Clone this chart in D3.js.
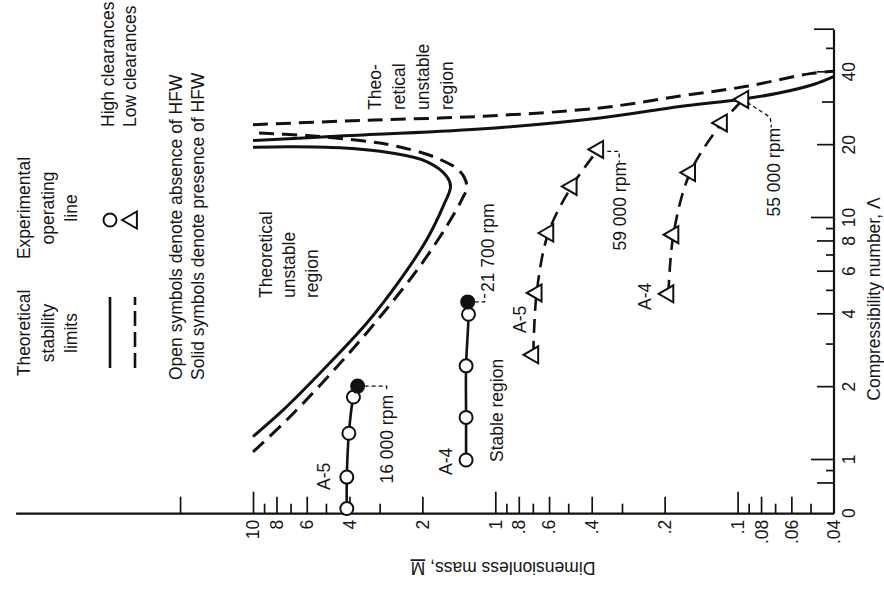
<!DOCTYPE html>
<html>
<head>
<meta charset="utf-8">
<script src="https://cdn.jsdelivr.net/npm/d3@7"></script>
<style>
  body { margin: 0; background: #fff; }
  svg { display: block; font-family: "Liberation Sans", Arial, sans-serif; }
  text { fill: #161616; font-size: 17.5px; }
</style>
</head>
<body>
<svg id="vis" width="884" height="589"></svg>
<script>
// points are [compressibility number, dimensionless mass]
const solidLower = [[1.25, 10], [1.61, 7.5], [2.36, 5.13], [3.68, 3.39], [5.55, 2.47], [8.13, 1.92],
    [11.2, 1.64], [13.5, 1.53], [14.9, 1.59], [17.1, 1.92], [18.6, 2.72], [19.5, 4.37], [19.7, 7.03], [19.6, 10]];
const dashedLower = [[1.08, 10], [1.51, 7.03], [2.51, 4.37], [4.05, 2.9], [6.31, 2.05], [9.23, 1.59],
    [11.9, 1.375], [13.5, 1.31], [15.6, 1.4], [17.7, 1.745], [19.8, 2.55], [20.9, 3.62], [21.9, 6.0], [22.5, 10]];
const solidUpper = [[20.9, 10], [21.8, 4.37], [23.3, 1.157], [25.9, 0.37], [28.9, 0.173], [30.9, 0.0977],
    [32.9, 0.0668], [35.6, 0.0487], [38.5, 0.04]];
const dashedUpper = [[24.3, 10], [25.3, 3.62], [26.3, 1.157], [28.5, 0.37], [31.9, 0.173], [35.0, 0.0918],
    [39.5, 0.0502], [40.4, 0.04]];

// experimental operating lines (last point of each = the solid / labelled one)
const a5High = [[0.63, 4.1], [0.85, 4.1], [1.29, 4.02], [1.82, 3.85], [2.02, 3.7]];
const a4High = [[1.0, 1.32], [1.5, 1.32], [2.45, 1.32], [4.0, 1.29], [4.5, 1.3]];
const a5Low = [[2.72, 0.697], [4.9, 0.675], [8.67, 0.604], [13.5, 0.484], [19.2, 0.376]];
const a4Low = [[4.86, 0.193], [8.53, 0.184], [15.4, 0.157], [24.7, 0.116], [30.9, 0.0947]];

// axes
const lamOrigin = 0.6;            // log axis starts here, labelled "0"
const lamMax = 60;
const massMax = 95;
const lamLabelVals = [0.6, 1, 2, 4, 6, 8, 10, 20, 40];
const lamLabels = ["0", "1", "2", "4", "6", "8", "10", "20", "40"];
const lamMajor = [1, 10];
const lamMid = [0.8, 2, 4, 6, 8, 20, 40];
const lamSmall = [0.9, 3, 5, 7, 9, 50];
const lamOther = [30];
const lamEnd = [60];
const massLabelVals = [10, 8, 6, 4, 2, 1, 0.8, 0.6, 0.4, 0.2, 0.1, 0.08, 0.06, 0.04];
const massMajor = [10, 1, 0.1];
const massMid = [20, 8, 6, 4, 2, 0.8, 0.6, 0.4, 0.2, 0.08, 0.06];
const massSmall = [9, 7, 5, 3, 0.9, 0.7, 0.5, 0.3, 0.09, 0.07, 0.05];

const svg = d3.select('#vis');
const H = 589;

// the figure is drawn upright and then turned a quarter turn, as on the printed page
const g = svg.append('g').attr('transform', 'translate(0,' + H + ') rotate(-90)');

const lam = d3.scaleLog().domain([1, 10]).range([129, 371]);
const mass = d3.scaleLog().domain([0.04, 10]).range([834, 253]);

const x0 = lam(lamOrigin);
const yBase = mass(0.04);

// axis lines
g.append('line').attr('x1', x0).attr('x2', x0).attr('y1', yBase).attr('y2', mass(massMax))
    .attr('stroke', '#111').attr('stroke-width', 2.2);
g.append('line').attr('x1', x0).attr('x2', lam(lamMax)).attr('y1', yBase).attr('y2', yBase)
    .attr('stroke', '#111').attr('stroke-width', 2.2);

function fmtMass(d) {
    return d >= 1 ? String(d) : String(d).replace(/^0/, '');
}

function massTicks(vals, len, labelled) {
    const ax = d3.axisLeft(mass).tickValues(vals).tickSizeInner(-len).tickSizeOuter(0).tickPadding(6)
        .tickFormat(labelled ? fmtMass : '');
    const sel = g.append('g').attr('transform', 'translate(' + x0 + ',0)').call(ax);
    sel.select('.domain').remove();
    sel.attr('font-size', null).attr('font-family', null);
    sel.selectAll('line').attr('stroke', '#111').attr('stroke-width', 1.7);
    sel.selectAll('text').attr('fill', '#161616').attr('dy', '0.34em');
}

function lamTicks(vals, len, fmt) {
    const ax = d3.axisBottom(lam).tickValues(vals).tickSizeInner(-len).tickSizeOuter(0).tickPadding(9)
        .tickFormat(fmt || '');
    const sel = g.append('g').attr('transform', 'translate(0,' + yBase + ')').call(ax);
    sel.select('.domain').remove();
    sel.attr('font-size', null).attr('font-family', null);
    sel.selectAll('line').attr('stroke', '#111').attr('stroke-width', 1.7);
    sel.selectAll('text').attr('fill', '#161616');
}

massTicks(massMajor, 22, false);
massTicks(massMid, 17, false);
massTicks(massSmall, 10, false);
massTicks(massLabelVals, 0, true);

lamTicks(lamMajor, 23);
lamTicks(lamMid, 17);
lamTicks(lamSmall, 8);
lamTicks(lamOther, 12);
lamTicks(lamEnd, 20);
lamTicks(lamLabelVals, 0, function (d, i) { return lamLabels[i]; });

// axis titles
g.append('text').attr('x', 290).attr('y', 880).attr('text-anchor', 'middle')
    .text('Compressibility number, \u039B');
const mt = g.append('text').attr('transform', 'translate(27,503) rotate(-90)').attr('text-anchor', 'middle');
mt.append('tspan').text('Dimensionless mass, ');
mt.append('tspan').style('text-decoration', 'underline').text('M');

// theoretical stability limits
const curve = d3.line()
    .x(function (d) { return lam(d[0]); })
    .y(function (d) { return mass(d[1]); })
    .curve(d3.curveCatmullRom.alpha(0.5));

[[solidLower, null], [solidUpper, null], [dashedLower, '15,8'], [dashedUpper, '15,8']].forEach(function (c) {
    g.append('path').attr('d', curve(c[0])).attr('fill', 'none')
        .attr('stroke', '#111').attr('stroke-width', 3).attr('stroke-dasharray', c[1]);
});

// experimental operating lines
function opLine(data, dash) {
    g.append('path').attr('d', curve(data)).attr('fill', 'none')
        .attr('stroke', '#111').attr('stroke-width', 2.6).attr('stroke-dasharray', dash);
}
opLine(a5High, null);
opLine(a4High, null);
opLine(a5Low, '14,8');
opLine(a4Low, '14,8');

function circles(data) {
    g.selectAll(null).data(data).enter().append('circle')
        .attr('cx', function (d) { return lam(d[0]); })
        .attr('cy', function (d) { return mass(d[1]); })
        .attr('r', 6.5)
        .attr('fill', function (d, i) { return i === data.length - 1 ? '#111' : '#fff'; })
        .attr('stroke', '#111').attr('stroke-width', 2);
}
circles(a5High);
circles(a4High);

const tri = d3.symbol().type(d3.symbolTriangle).size(125);
function triangles(data) {
    g.selectAll(null).data(data).enter().append('path')
        .attr('d', tri)
        .attr('transform', function (d) { return 'translate(' + lam(d[0]) + ',' + mass(d[1]) + ')'; })
        .attr('fill', '#fff').attr('stroke', '#111').attr('stroke-width', 2);
}
triangles(a5Low);
triangles(a4Low);

// speed call-outs, drawn from the last point of each run
function leader(p, steps) {
    const px = lam(p[0]), py = mass(p[1]);
    const pts = steps.map(function (s) { return [px + s[0], py + s[1]]; });
    g.append('path').attr('d', d3.line()(pts)).attr('fill', 'none')
        .attr('stroke', '#111').attr('stroke-width', 1.3).attr('stroke-dasharray', '4,3');
}
leader(a5High[4], [[0, 7], [0, 29], [-6, 29]]);
leader(a4High[4], [[0, 7], [0, 17], [9, 17]]);
leader(a5Low[4], [[-2, 9], [-2, 21], [-13, 21]]);
leader(a4Low[4], [[-3, 4], [-18, 27], [-28, 28]]);

// labels
function label(x, y, txt, anchor) {
    g.append('text').attr('x', x).attr('y', y).attr('text-anchor', anchor || 'start').text(txt);
}
label(194, 393, '16 000 rpm', 'end');
label(297, 494, '21 700 rpm');
label(427, 626, '59 000 rpm', 'end');
label(461, 780, '55 000 rpm', 'end');
label(99, 330, 'A-5');
label(114, 452, 'A-4');
label(256, 526, 'A-5');
label(279, 651, 'A-4');
label(127, 503, 'Stable region');
['Theoretical', 'unstable', 'region'].forEach(function (t, i) { label(291, 272 + i * 23, t); });
['Theo-', 'retical', 'unstable', 'region'].forEach(function (t, i) { label(479, 381 + i * 24, t); });

// legend
['Theoretical', 'stability', 'limits'].forEach(function (t, i) { label(256, 30 + i * 23.5, t, 'middle'); });
['Experimental', 'operating', 'line'].forEach(function (t, i) { label(381, 30 + i * 23.5, t, 'middle'); });
g.append('line').attr('x1', 221).attr('x2', 292).attr('y1', 110).attr('y2', 110)
    .attr('stroke', '#111').attr('stroke-width', 2.6);
g.append('line').attr('x1', 221).attr('x2', 292).attr('y1', 135).attr('y2', 135)
    .attr('stroke', '#111').attr('stroke-width', 2.6).attr('stroke-dasharray', '15,6');
g.append('circle').attr('cx', 369).attr('cy', 110).attr('r', 6.5)
    .attr('fill', '#fff').attr('stroke', '#111').attr('stroke-width', 2);
g.append('path').attr('d', tri).attr('transform', 'translate(369,132)')
    .attr('fill', '#fff').attr('stroke', '#111').attr('stroke-width', 2);
label(462, 114, 'High clearances');
label(462, 136, 'Low clearances');
label(209, 182, 'Open symbols denote absence of HFW');
label(209, 204, 'Solid symbols denote presence of HFW');
</script>
</body>
</html>
